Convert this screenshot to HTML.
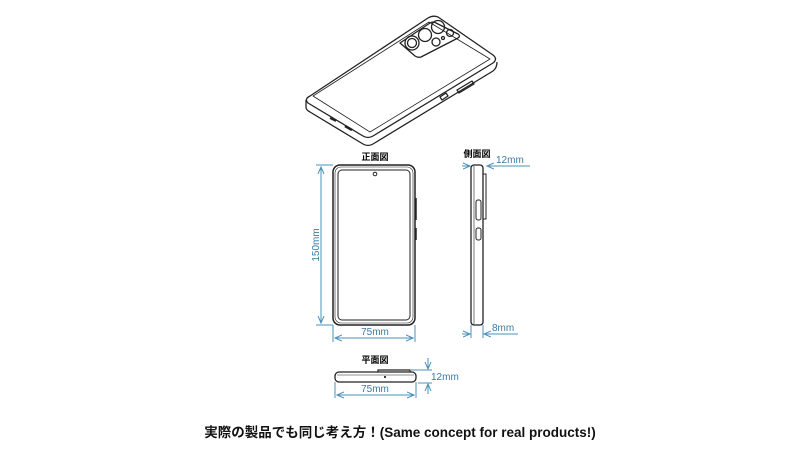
<!DOCTYPE html>
<html><head><meta charset="utf-8"><style>
body{margin:0;background:#fff;width:800px;height:447px;overflow:hidden}
svg text{font-family:"Liberation Sans","Noto Sans CJK JP",sans-serif}
</style></head><body>
<svg width="800" height="447" viewBox="0 0 800 447" xmlns="http://www.w3.org/2000/svg">
<defs>
<marker id="a" markerWidth="8" markerHeight="8" refX="7" refY="4" orient="auto-start-reverse" markerUnits="userSpaceOnUse"><path d="M0,1 L7,4 L0,7" fill="none" stroke="#4a90b8" stroke-width="1"/></marker>
</defs>
<g fill="none" stroke="#222" stroke-width="1.3" stroke-linejoin="round">
<path d="M310,96 L428,18 Q433,15 438,17 L493,55 Q498,59 493,63 L373,136 Q368,139 363,136 L308,103 Q304,99 310,96 Z"/>
<path d="M306,100 L306,107 Q306,110 310,112 L363,144 Q368,147 373,144 L493,71 Q497,68 497,62"/>
<path d="M313,96 L429,22 L490,59 L370,132 Z" stroke-width="0.8"/>
<path d="M400,43 L430,23 Q433,21 436,23 L458,34 Q461,36 458,38 L421,57 Q418,58 415,56 Z"/>
<circle cx="412" cy="43" r="7"/><circle cx="412" cy="43" r="4.5"/>
<circle cx="425" cy="35" r="6.5"/><circle cx="438" cy="27" r="6.5"/>
<circle cx="436" cy="42" r="4"/><circle cx="443" cy="38" r="1.5"/><circle cx="450" cy="33" r="3.5"/>
<path d="M457,90 L472,81 L474,84 L459,93 Z"/>
<path d="M440,97 L446,93 L448,96 L442,100 Z"/>
<path d="M345,126 L352,130" stroke-width="2.5"/><path d="M330,118 L336,121" stroke-width="2"/>
</g>
<g fill="none" stroke="#222">
<rect x="333" y="165" width="82" height="160" rx="7" stroke-width="1.5"/>
<rect x="335" y="167" width="78" height="156" rx="6" stroke-width="0.6"/>
<rect x="338" y="170" width="72" height="150" rx="4" stroke-width="1"/>
<circle cx="375" cy="174" r="1.8"/>
<path d="M416,198 V220 M416,228 V240" stroke-width="1.5"/>
</g>
<g stroke="#4a90b8" stroke-width="1" fill="none">
<path d="M316,165 H333 M316,325 H333"/>
<line x1="321" y1="167" x2="321" y2="323" marker-start="url(#a)" marker-end="url(#a)"/>
<path d="M333,325 V342 M415,325 V342"/>
<line x1="335" y1="338" x2="413" y2="338" marker-start="url(#a)" marker-end="url(#a)"/>
</g>
<text x="375" y="160" font-size="9" font-weight="bold" text-anchor="middle">正面図</text>
<text x="375" y="335" font-size="10" fill="#3a7aa0" text-anchor="middle">75mm</text>
<text transform="translate(319,245) rotate(-90)" font-size="10" fill="#3a7aa0" text-anchor="middle">150mm</text>
<g fill="none" stroke="#222">
<rect x="471" y="165" width="12" height="160" rx="3" stroke-width="1.3"/>
<line x1="474" y1="166" x2="474" y2="324" stroke-width="0.6"/>
<rect x="483" y="174" width="3" height="45" stroke-width="1"/>
<rect x="476" y="200" width="5" height="20" rx="2" stroke-width="1"/>
<rect x="476" y="228" width="5" height="12" rx="2" stroke-width="1"/>
</g>
<g stroke="#4a90b8" stroke-width="1" fill="none">
<line x1="462" y1="166" x2="470" y2="166" marker-end="url(#a)"/>
<line x1="496" y1="166" x2="487" y2="166" marker-end="url(#a)"/>
<line x1="496" y1="166" x2="530" y2="166"/>
<path d="M471,325 V338 M483,325 V338"/>
<line x1="462" y1="334" x2="470" y2="334" marker-end="url(#a)"/>
<line x1="494" y1="334" x2="484" y2="334" marker-end="url(#a)"/>
<line x1="494" y1="334" x2="518" y2="334"/>
</g>
<text x="477" y="157" font-size="9" font-weight="bold" text-anchor="middle">側面図</text>
<text x="496" y="163" font-size="10" fill="#3a7aa0">12mm</text>
<text x="492" y="331" font-size="10" fill="#3a7aa0">8mm</text>
<g fill="none" stroke="#222">
<rect x="335" y="372" width="81" height="10" rx="4" stroke-width="1.3"/>
<line x1="337" y1="375" x2="414" y2="375" stroke-width="0.6"/>
<path d="M378,372 V370 H410 V372" stroke-width="1.2"/>
<circle cx="385" cy="377" r="0.6"/>
</g>
<g stroke="#4a90b8" stroke-width="1" fill="none">
<path d="M335,382 V398 M416,382 V398"/>
<line x1="337" y1="395" x2="414" y2="395" marker-start="url(#a)" marker-end="url(#a)"/>
<path d="M411,370 H432 M418,383 H432"/>
<line x1="428" y1="358" x2="428" y2="369" marker-end="url(#a)"/>
<line x1="428" y1="394" x2="428" y2="384" marker-end="url(#a)"/>
</g>
<text x="375" y="363" font-size="9" font-weight="bold" text-anchor="middle">平面図</text>
<text x="375" y="392" font-size="10" fill="#3a7aa0" text-anchor="middle">75mm</text>
<text x="431" y="380" font-size="10" fill="#3a7aa0">12mm</text>
<text x="400" y="437" font-size="13.5" font-weight="bold" text-anchor="middle" fill="#111">実際の製品でも同じ考え方！(Same concept for real products!)</text>
</svg>
</body></html>
